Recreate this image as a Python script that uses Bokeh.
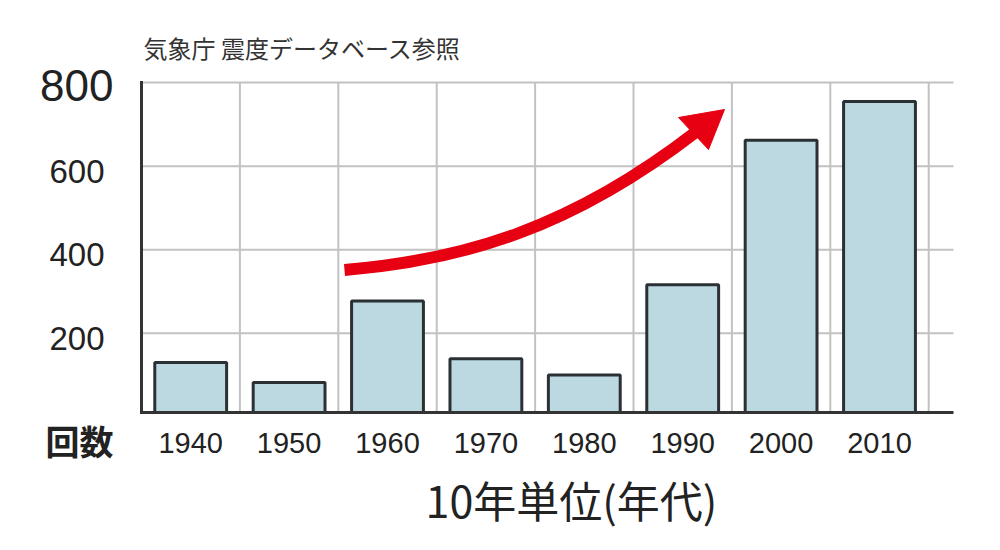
from bokeh.plotting import figure
from bokeh.models import Range1d
from bokeh.core.properties import value
from bokeh.embed import file_html
from bokeh.resources import INLINE

# ---------------- data ----------------
decades = ["1940", "1950", "1960", "1970", "1980", "1990", "2000", "2010"]
counts = [130, 82, 277, 139, 100, 316, 662, 755]
y_ticks = [200, 400, 600]
y_top_tick = 800
y_grid_ticks = [200, 400, 600, 800]
source_note = "気象庁 震度データベース参照"
y_title = "回数"
x_title = "10年単位(年代)"

# ---------------- layout (pixels) ----------------
W, H = 1000, 550
PX_X0 = 141.0      # left edge of the first decade cell (y axis line)
CELL = 98.4        # width of one decade cell
PX_Y0 = 416.2      # pixel row of count 0
PPU = 0.4176       # pixels per count
PX_BASE = 412.0    # x axis line
PX_RIGHT = 953.0   # right end of x axis / horizontal grid
PX_TOP = 80.5      # top of the y axis line

JP = "Noto Sans CJK JP"
NUM = "Liberation Sans"
INK = "#222222"
RED = "#e60012"


def dx(px):
    return (px - PX_X0) / CELL


def dy(py):
    return (PX_Y0 - py) / PPU


n = len(decades)
x_pos = [i + 0.5 for i in range(n)]
x_bounds = [i + 1 for i in range(n)]
base = dy(PX_BASE)

p = figure(width=W, height=H, output_backend="svg", toolbar_location=None,
           x_range=Range1d(dx(0), dx(W)), y_range=Range1d(dy(H), dy(0)),
           x_axis_location=None, y_axis_location=None, title=None,
           min_border=0)
p.grid.visible = False
p.outline_line_color = None
p.background_fill_color = "white"
p.border_fill_color = "white"

# grid lines
p.segment(x0=x_bounds, y0=[base] * n, x1=x_bounds, y1=[y_grid_ticks[-1]] * n,
          line_color="#c2c2c2", line_width=2)
p.segment(x0=[0] * len(y_grid_ticks), y0=y_grid_ticks,
          x1=[dx(PX_RIGHT)] * len(y_grid_ticks), y1=y_grid_ticks,
          line_color="#c2c2c2", line_width=2)

# bars
p.vbar(x=x_pos, top=counts, bottom=base, width=0.73,
       fill_color="#bcd9e2", line_color="#2b3035", line_width=3)

# axis lines
p.segment(x0=[0], y0=[dy(PX_BASE + 1.5)], x1=[0], y1=[dy(PX_TOP)],
          line_color="#333333", line_width=3)
p.segment(x0=[dx(PX_X0 - 1.5)], y0=[base], x1=[dx(PX_RIGHT)], y1=[base],
          line_color="#333333", line_width=3)

# rising arrow (decoration)
p.bezier(x0=[dx(344)], y0=[dy(269.5)], x1=[dx(696)], y1=[dy(131)],
         cx0=[dx(464)], cy0=[dy(259.5)], cx1=[dx(572)], cy1=[dy(227)],
         line_color=RED, line_width=12, line_cap="butt")
p.patch(x=[dx(678), dx(724), dx(708)], y=[dy(117), dy(109), dy(149)],
        fill_color=RED, line_color=RED, line_width=1)

# y tick labels
p.text(x=[dx(104)] * len(y_ticks), y=[v - 5 / PPU for v in y_ticks],
       text=[str(v) for v in y_ticks], text_font=value(NUM),
       text_font_size=value("33px"), text_align="right",
       text_baseline="middle", text_color=INK)
p.text(x=[dx(113)], y=[dy(84.5)], text=[str(y_top_tick)], text_font=value(NUM),
       text_font_size=value("44px"), text_align="right",
       text_baseline="middle", text_color=INK)

# x tick labels
p.text(x=x_pos, y=[dy(442)] * n, text=decades, text_font=value(NUM),
       text_font_size=value("29px"), text_align="center",
       text_baseline="middle", text_color=INK)

# titles
p.text(x=[dx(113)], y=[dy(440)], text=[y_title], text_font=value(JP),
       text_font_size=value("34px"), text_font_style="bold",
       text_align="right", text_baseline="middle", text_color=INK)
p.text(x=[dx(571)], y=[dy(498)], text=[x_title], text_font=value(JP),
       text_font_size=value("43px"), text_align="center",
       text_baseline="middle", text_color=INK)
p.text(x=[dx(143)], y=[dy(47)], text=[source_note], text_font=value(JP),
       text_font_size=value("24px"), text_align="left",
       text_baseline="middle", text_color="#333333")

open("out.html", "w").write(file_html(p, INLINE))
